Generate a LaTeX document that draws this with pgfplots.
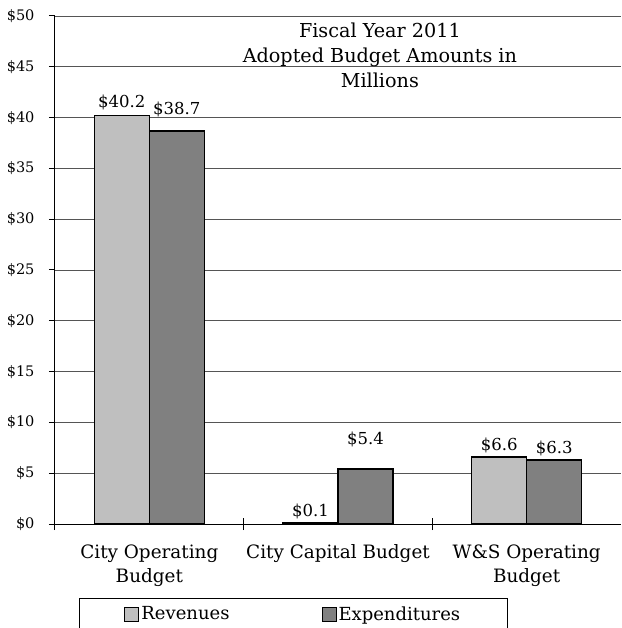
\documentclass[border=0pt]{standalone}
\usepackage{fontspec}
\setmainfont{DejaVu Serif}
\usepackage{pgfplots}
\pgfplotsset{compat=1.18}
\definecolor{revc}{HTML}{BFBFBF}
\definecolor{expc}{HTML}{808080}
\definecolor{gridc}{HTML}{555555}
\begin{document}
\begin{tikzpicture}
\begin{axis}[
  at={(0pt,0pt)}, anchor=south west,
  scale only axis, width=566pt, height=508pt,
  xmin=-0.5, xmax=2.5, ymin=0, ymax=50,
  ybar=0pt, bar width=55pt,
  axis x line*=bottom, axis y line*=left,
  axis line style={black, line width=1pt},
  tick style={black, line width=1pt},
  tick align=outside, major tick length=6pt,
  ytick={0,5,...,50},
  yticklabels={\$0,\$5,\$10,\$15,\$20,\$25,\$30,\$35,\$40,\$45,\$50},
  yticklabel style={font=\fontsize{14.5}{17}\selectfont, xshift=-11pt},
  ymajorgrids, grid style={gridc, line width=0.8pt},
  xtick={0,1,2},
  xticklabels={City Operating\\Budget, City Capital Budget, W\&S Operating\\Budget},
  xticklabel style={align=center, font=\fontsize{18.4}{24}\selectfont, yshift=-11pt},
  major x tick style={draw=none},
  extra x ticks={-0.5,0.5,1.5}, extra x tick labels={},
  extra x tick style={major tick length=12pt, tick align=center, major x tick style={draw=black}},
  point meta=explicit symbolic,
  nodes near coords,
  every node near coord/.append style={font=\fontsize{16.5}{20}\selectfont, black},
  legend columns=2, legend cell align=left,
  legend image code/.code={\draw[#1, line width=1pt] (0pt,-7pt) rectangle (14pt,7pt);},
  legend style={at={(0.0424,-0.1457)}, anchor=north west, draw=black, line width=0.8pt,
    inner xsep=45pt, inner ysep=6pt, font=\fontsize{18}{22}\selectfont,
    /tikz/every even column/.append style={column sep=90pt}},
]
\addplot[fill=revc, draw=black, line width=1.5pt] coordinates {
  (0,40.2) [\raisebox{4pt}{\$40.2}]
  (1,0.1) [\raisebox{2pt}{\$0.1}]
  (2,6.6) [\$6.6]
};
\addplot[fill=expc, draw=black, line width=1.5pt] coordinates {
  (0,38.7) [\raisebox{12pt}{\$38.7}]
  (1,5.4) [\raisebox{21pt}{\$5.4}]
  (2,6.3) [\raisebox{2pt}{\$6.3}]
};
\legend{Revenues, Expenditures}
\node[align=center, anchor=north, inner sep=0pt, font=\fontsize{19.2}{25}\selectfont]
  at (rel axis cs:0.574,0.986) {Fiscal Year 2011\\Adopted Budget Amounts in\\Millions};
\end{axis}
\pgfresetboundingbox
\path[use as bounding box] (-55pt,-104pt) rectangle (566pt,524pt);
\end{tikzpicture}
\end{document}
